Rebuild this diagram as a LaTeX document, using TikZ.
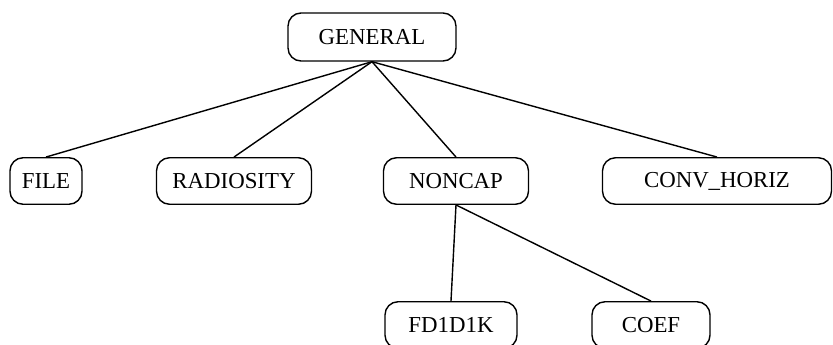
\documentclass[tikz,border=0pt]{standalone}
\usepackage{fontspec}
\setmainfont{Liberation Serif}
\usetikzlibrary{positioning,calc}
\tikzset{font=\fontsize{13}{15}\selectfont}
\tikzset{module/.style={draw, rounded corners=0.26cm, line width=0.8pt, inner sep=0pt, minimum height=0.93cm}}

\begin{document}
\begin{tikzpicture}[x=0.02cm, y=-0.02cm, line width=0.8pt]
	\useasboundingbox (0, 0) rectangle (833, 345);
	\begin{scope}
		\node[module, minimum width=3.36cm, minimum height=0.96cm] (general) at (372, 37) {GENERAL};

		\node[module, minimum width=1.44cm] (file) at (46, 181) {FILE};
		\node[module, minimum width=3.10cm] (radiosity) at (234, 181) {RADIOSITY};
		\node[module, minimum width=2.90cm] (noncap) at (456, 181) {NONCAP};
		\node[module, minimum width=4.58cm] (convhoriz) at (717, 181) {CONV\_HORIZ};

		\node[module, minimum width=2.64cm] (fd1d1k) at (451, 325) {FD1D1K};
		\node[module, minimum width=2.36cm] (coef) at (651, 325) {COEF};

		\draw (general.south) -- (file.north);
		\draw (general.south) -- (radiosity.north);
		\draw (general.south) -- (noncap.north);
		\draw (general.south) -- (convhoriz.north);
		\draw (noncap.south) -- (fd1d1k.north);
		\draw (noncap.south) -- (coef.north);
	\end{scope}
\end{tikzpicture}
\end{document}
